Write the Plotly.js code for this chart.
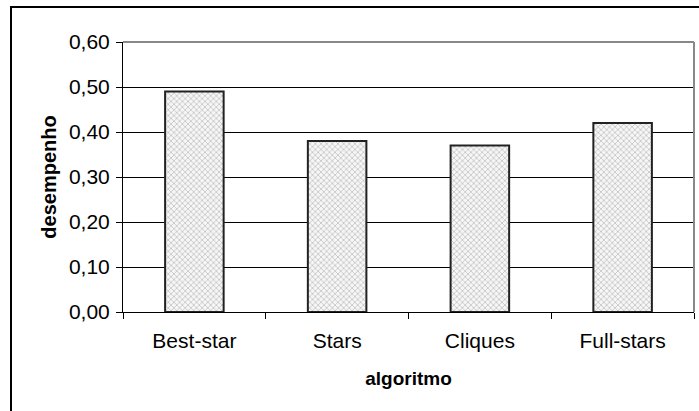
<!DOCTYPE html>
<html>
<head>
<meta charset="utf-8">
<script src="https://cdn.plot.ly/plotly-3.0.1.min.js"></script>
<style>html,body{margin:0;padding:0;background:#fff;}#chart{width:699px;height:411px;}</style>
</head>
<body>
<div id="chart"></div>
<script>
const categories = ["Best-star", "Stars", "Cliques", "Full-stars"];
const desempenho = [0.49, 0.38, 0.37, 0.42];
const yTicks = [0, 0.1, 0.2, 0.3, 0.4, 0.5, 0.6];

const W = 699, H = 411;
const L = 123, R = 5, T = 42, B = 99;
const pw = W - L - R, ph = H - T - B;
const px = v => (v - L) / pw;
const py = v => (H - B - v) / ph;

const trace = {
  type: "bar",
  x: categories,
  y: desempenho,
  width: 0.41,
  marker: {
    color: "#f4f4f4",
    line: {color: "#222", width: 2},
    pattern: {shape: "x", fgcolor: "#a8a8a8", bgcolor: "#f6f6f6", size: 4, solidity: 0.25}
  },
  hoverinfo: "none"
};

const layout = {
  width: W, height: H,
  margin: {l: L, r: R, t: T, b: B, pad: 0},
  paper_bgcolor: "#fff",
  plot_bgcolor: "#fff",
  separators: ",.",
  showlegend: false,
  font: {family: "Liberation Sans, Arial, sans-serif", color: "#000"},
  xaxis: {
    type: "category",
    tickson: "boundaries",
    ticks: "outside", ticklen: 6, tickcolor: "#000", tickwidth: 1,
    showline: true, linecolor: "#000", linewidth: 1,
    showgrid: false, zeroline: false,
    tickfont: {size: 21, family: "Liberation Sans, Arial, sans-serif"},
    ticklabelstandoff: 10,
    title: {text: "<b>algoritmo</b>", font: {size: 19}, standoff: 20}
  },
  yaxis: {
    range: [0, 0.6],
    tickvals: yTicks,
    tickformat: ".2f",
    ticks: "outside", ticklen: 6, tickcolor: "#000", tickwidth: 1,
    showline: true, linecolor: "#000", linewidth: 1,
    showgrid: true, gridcolor: "#000", gridwidth: 1,
    zeroline: false,
    tickfont: {size: 21, family: "Liberation Sans, Arial, sans-serif"},
    ticklabelstandoff: 2,
    title: {text: "<b>desempenho</b>", font: {size: 20}, standoff: 6}
  },
  shapes: [
    {type: "line", xref: "paper", yref: "paper", x0: 0, x1: 1, y0: 1, y1: 1, line: {color: "#888", width: 2}},
    {type: "line", xref: "paper", yref: "paper", x0: 1, x1: 1, y0: 0, y1: 1, line: {color: "#888", width: 2}},
    {type: "rect", xref: "paper", yref: "paper", x0: px(11), x1: px(710), y0: py(7), y1: py(425), line: {color: "#000", width: 2}, fillcolor: "rgba(0,0,0,0)"}
  ]
};

Plotly.newPlot("chart", [trace], layout, {displayModeBar: false, staticPlot: true});
</script>
</body>
</html>
